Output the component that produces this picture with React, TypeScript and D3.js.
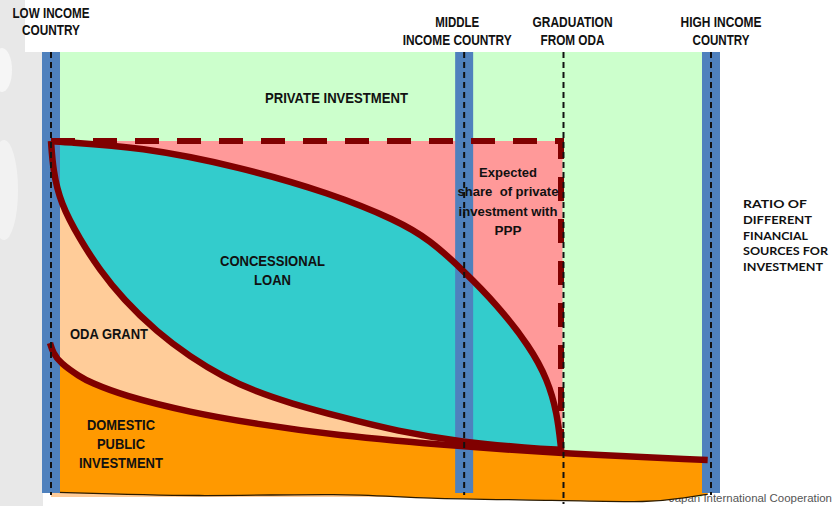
import React from 'react'
import * as d3 from 'd3'

// stages of development along the x axis (0 = low income, 100 = high income)
const stageLabels = [
  ['LOW INCOME', 'COUNTRY'],
  ['MIDDLE', 'INCOME COUNTRY'],
  ['GRADUATION', 'FROM ODA'],
  ['HIGH INCOME', 'COUNTRY'],
]
const stagePositions = [0, 62.6, 77.5, 100]
const incomeStages = [0, 62.6, 100] // blue markers

// share of investment (%) held by private sector under PPP
const privateCap = 80
const graduationEnd = 10.6

// concessional loan, upper and lower edges [stage, share]
const loanTop: [number, number][] = [
  [0, 80], [1.4, 79.8], [13.5, 78.7], [28.6, 74.2], [42.3, 68.3], [52.4, 62.2],
  [57.4, 57.8], [62.4, 51.0], [67.6, 43.2], [72.6, 33.7], [75.2, 26.5], [76.7, 18.9], [77.3, 10.6],
]
const loanBottom: [number, number][] = [
  [0, 80], [0.3, 73.5], [1.4, 66.1], [4.4, 57.8], [7.4, 51.0], [10.9, 44.5], [16.1, 37.0],
  [21.1, 31.5], [26.1, 27.0], [31.2, 23.6], [36.2, 21.1], [43.8, 18.0], [52.4, 14.8],
  [62.4, 12.3], [72.6, 11.0], [77.3, 10.6],
]
// domestic public investment, upper edge
const domesticTop: [number, number][] = [
  [-0.15, 34.6], [0.3, 32.4], [1.4, 30.1], [4.4, 27.0], [5.9, 25.8], [10.9, 22.8],
  [21.1, 19.0], [31.2, 16.4], [42.3, 14.0], [62.4, 11.3], [77.6, 9.8], [99.5, 8.3],
]
const baseEdge: [number, number][] = [
  [-0.15, 1.1], [22.6, 0], [44.5, 0.9], [56, -0.4], [77, -0.7], [91.2, -1.3], [95.8, -0.2], [99.5, 0.6],
]

const privateLabel = ['PRIVATE INVESTMENT']
const loanLabel = ['CONCESSIONAL', 'LOAN']
const grantLabel = ['ODA GRANT']
const domesticLabel = ['DOMESTIC', 'PUBLIC', 'INVESTMENT']
const pppLabel = ['Expected', 'share  of private', 'investment with', 'PPP']
const ratioLabel = ['RATIO OF', 'DIFFERENT', 'FINANCIAL', 'SOURCES FOR', 'INVESTMENT']

const W = 833
const H = 506
const NARROW = '"Liberation Sans Narrow", "Liberation Sans", Arial, sans-serif'

const x = d3.scaleLinear().domain([0, 100]).range([51, 711])
const y = d3.scaleLinear().domain([0, 100]).range([497, 52])

const line = d3.line<[number, number]>()
  .x(d => x(d[0]))
  .y(d => y(d[1]))
  .curve(d3.curveBasis)

const cont = (pts: [number, number][]) => (line(pts) || '').replace(/^M/, 'L')

const Lines = ({ lines, cx, by, dy, size, lens, anchor = 'middle', family = NARROW, weight = 'bold', fill = '#111' }: any) => (
  <g>
    {lines.map((t: string, i: number) => (
      <text key={i} x={cx} y={by + i * dy} textAnchor={anchor} fontSize={size} fontWeight={weight}
        fontFamily={family} fill={fill} textLength={lens[i]} lengthAdjust="spacingAndGlyphs"
        style={{ whiteSpace: 'pre' }}>{t}</text>
    ))}
  </g>
)

export default function App() {
  const barW = 18
  const cyanPath = line(loanTop) + cont([...loanBottom].reverse()) + 'Z'
  const peachPath = line(loanBottom) + `L${x(77.3)},${y(0)}L${x(0)},${y(0)}Z`
  const orangePath = line(domesticTop) + cont([...baseEdge].reverse()) + 'Z'
  const dashed = `M${x(0)},${y(privateCap)}H${x(stagePositions[2]) - 1.5}V${y(graduationEnd)}`
  const headerDx = [0, -7, 10, 10]
  const headerLens = [[77, 58], [44, 109], [80, 64], [81, 57]]

  return (
    <svg width={W} height={H} style={{ position: 'absolute', left: 0, top: 0, display: 'block', background: '#fff' }}>
      <rect x={0} y={0} width={43} height={H} fill="#e8e8e8" />
      <ellipse cx={2} cy={70} rx={10} ry={22} fill="#f6f6f6" />
      <ellipse cx={4} cy={190} rx={14} ry={50} fill="#f2f2f2" />
      <rect x={25} y={0} width={W - 25} height={52} fill="#fff" />

      <text x={832} y={502} textAnchor="end" fontSize={11} fontFamily='"Liberation Sans", Arial, sans-serif'
        fill="#555" textLength={163} lengthAdjust="spacingAndGlyphs">Japan International Cooperation</text>

      {/* fills */}
      <rect x={x(0) + barW / 2} y={y(100)} width={x(100) - x(0) - barW} height={y(0) - y(100)} fill="#ccffcc" />
      <rect x={x(0)} y={y(privateCap)} width={x(stagePositions[2]) - x(0)} height={y(graduationEnd - 1) - y(privateCap)} fill="#ff9999" />
      <path d={peachPath} fill="#ffcc99" />
      <path d={orangePath} fill="#ff9900" />
      <path d={cont(baseEdge).replace(/^L/, 'M')} fill="none" stroke="#2a1a00" strokeWidth={1.3} />
      <path d={cyanPath} fill="#33cccc" />

      {/* income stage markers */}
      {incomeStages.map((s, i) => (
        <rect key={i} x={x(s) - barW / 2} y={y(100)} width={barW} height={493 - y(100)} fill="#4f81bd" />
      ))}

      {/* outlines */}
      <path d={dashed} fill="none" stroke="#800000" strokeWidth={6} strokeDasharray="24 18" />
      <path d={line(loanTop) || ''} fill="none" stroke="#800000" strokeWidth={6.5} />
      <path d={line(loanBottom) || ''} fill="none" stroke="#800000" strokeWidth={6.5} />
      <path d={line(domesticTop) || ''} fill="none" stroke="#800000" strokeWidth={6.5} />

      {/* stage dashed lines */}
      {stagePositions.map((s, i) => (
        <line key={i} x1={x(s) + (i === 2 ? 1 : 0)} x2={x(s) + (i === 2 ? 1 : 0)} y1={y(100)} y2={i === 2 ? 504 : 495}
          stroke="#111" strokeWidth={2} strokeDasharray="6 4" />
      ))}

      {/* headers */}
      {stageLabels.map((lines, i) => (
        <Lines key={i} lines={lines} cx={x(stagePositions[i]) + headerDx[i]} by={i === 0 ? 18 : 27} dy={i === 0 ? 17 : 18}
          size={14.5} lens={headerLens[i]} />
      ))}

      <Lines lines={privateLabel} cx={336.5} by={103} dy={0} size={15} lens={[143]} />
      <Lines lines={loanLabel} cx={272.5} by={266} dy={18.5} size={15} lens={[105, 37]} />
      <Lines lines={grantLabel} cx={109} by={339} dy={0} size={15} lens={[78]} />
      <Lines lines={domesticLabel} cx={121} by={430} dy={19} size={15} lens={[68, 48, 84]} />
      <Lines lines={pppLabel} cx={508} by={177} dy={19.3} size={13} lens={[58, 101, 99, 27]} />
      <Lines lines={ratioLabel} cx={743} by={208} dy={15.8} size={11} anchor="start"
        family='Lato, "Noto Sans", sans-serif' lens={[64, 69, 65, 85, 80]} />
    </svg>
  )
}
